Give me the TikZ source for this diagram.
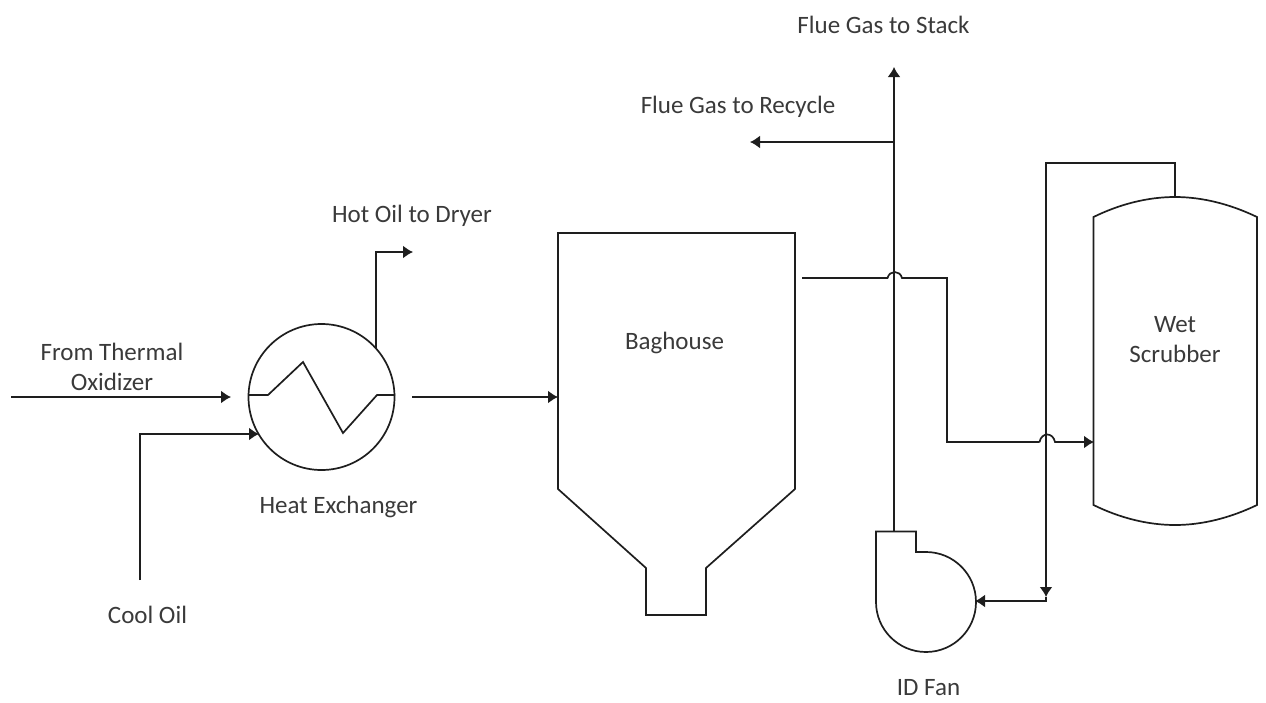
\documentclass[tikz,border=0pt]{standalone}
\usepackage{fontspec}
\setmainfont{Carlito}
\usetikzlibrary{arrows.meta}
\definecolor{ink}{HTML}{1E1E1E}
\definecolor{lbl}{HTML}{3A3A3A}
\tikzset{
  pipe/.style={draw=ink,line width=1.7pt,line join=miter},
  flow/.style={pipe,-{Latex[length=10pt,width=13pt]}},
  lab/.style={text=lbl,font=\fontsize{25pt}{30.5pt}\selectfont,align=center,inner sep=0pt,anchor=center},
  hxshape/.style={circle,draw=ink,line width=1.7pt,minimum size=146pt,inner sep=0pt}
}
\begin{document}
\begin{tikzpicture}[x=1pt,y=-1pt]
\useasboundingbox (0,0) rectangle (1266,702);
% named connection points
\coordinate (thermalIn) at (11,397);
\coordinate (thermalEnd) at (231,397);
\coordinate (coolStart) at (140,580);
\coordinate (coolBend) at (140,434);
\coordinate (coolEnd) at (259,434);
\coordinate (hotStart) at (376,349);
\coordinate (hotBend) at (376,252);
\coordinate (hotEnd) at (413,252);
\coordinate (hxOut) at (412,397);
\coordinate (bagIn) at (558,397);
\coordinate (bagOut) at (802,278);
\coordinate (jumpAL) at (887.5,278);
\coordinate (jumpAR) at (902,278);
\coordinate (duct) at (947,278);
\coordinate (ductLow) at (947,442);
\coordinate (jumpBL) at (1039.5,442);
\coordinate (jumpBR) at (1055,442);
\coordinate (scrIn) at (1094,442);
\coordinate (scrTop) at (1175,197);
\coordinate (scrBend) at (1175,163);
\coordinate (retBend) at (1046,163);
\coordinate (retHead) at (1046,597);
\coordinate (retLow) at (1046,601);
\coordinate (fanIn) at (975,601);
\coordinate (fanOut) at (894,531.5);
\coordinate (stack) at (894,67);
\coordinate (tee) at (894,142);
\coordinate (recycle) at (750,142);
% equipment
\node[hxshape] (hx) at (321.5,397) {};
\coordinate (zA) at (248.5,395);
\coordinate (zB) at (395,395);
\draw[pipe] (zA) -- (268,395) -- (303,362) -- (343,433) -- (377,395) -- (zB);
\draw[pipe] (558,233) -- (795,233) -- (795,489) -- (706,568) -- (706,615) -- (646,615) -- (646,568) -- (558,489) -- cycle;
\draw[pipe] (1093.5,217) .. controls (1120,204) and (1148,197) .. (1175,197) .. controls (1202,197) and (1230,204) .. (1257,217)
  -- (1257,505) .. controls (1230,518) and (1202,525) .. (1175,525) .. controls (1148,525) and (1120,518) .. (1093.5,505) -- cycle;
\draw[pipe] (876,602) -- (876,531.5) -- (916,531.5) -- (916,552) -- (926,552)
  .. controls (953.6,552) and (976,574.4) .. (976,602)
  .. controls (976,629.6) and (953.6,652) .. (926,652)
  .. controls (898.4,652) and (876,629.6) .. (876,602);
% connectors
\draw[flow] (thermalIn) -- (thermalEnd);
\draw[flow] (coolStart) -- (coolBend) -- (coolEnd);
\draw[flow] (hotStart) -- (hotBend) -- (hotEnd);
\draw[flow] (hxOut) -- (bagIn);
\draw[flow] (fanOut) -- (stack);
\draw[flow] (tee) -- (recycle);
\draw[pipe] (bagOut) -- (jumpAL) .. controls (889.5,270) and (900,270) .. (jumpAR) -- (duct) -- (ductLow) -- (jumpBL);
\draw[flow] (jumpBL) .. controls (1041.5,432) and (1053,432) .. (jumpBR) -- (scrIn);
\draw[flow] (scrTop) -- (scrBend) -- (retBend) -- (retHead);
\draw[flow] (retHead) -- (retLow) -- (fanIn);
% labels
\node[lab] (lStack) at (883.5,25) {Flue Gas to Stack};
\node[lab] (lRecycle) at (738,107) {Flue Gas to Recycle};
\node[lab] (lHot) at (412,216) {Hot Oil to Dryer};
\node[lab] (lThermal) at (112,367) {From Thermal\\Oxidizer};
\node[lab] (lHx) at (338.5,507) {Heat Exchanger};
\node[lab] (lCool) at (147.5,615) {Cool Oil};
\node[lab] (lBag) at (674.5,343) {Baghouse};
\node[lab] (lWet) at (1175,339.5) {Wet\\Scrubber};
\node[lab] (lFan) at (928.5,688) {ID Fan};
\end{tikzpicture}
\end{document}
